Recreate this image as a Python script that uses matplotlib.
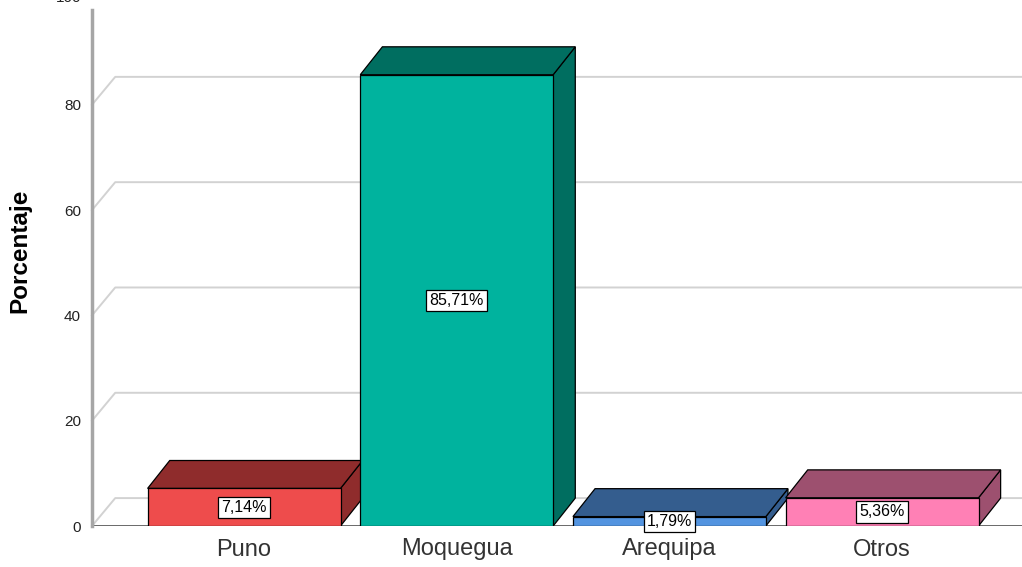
import numpy as np
import matplotlib.pyplot as plt
from matplotlib.patches import Polygon, Rectangle

# data
categories = ['Puno', 'Moquegua', 'Arequipa', 'Otros']
percents = [7.14, 85.71, 1.79, 5.36]
value_labels = ['7,14%', '85,71%', '1,79%', '5,36%']
yticks = [0, 20, 40, 60, 80]

front_colors = ['#ee4c4c', '#00b39e', '#5394e0', '#ff80b5']
dark_colors = ['#8f2c2c', '#006e60', '#345d8e', '#9d506f']

plt.rcParams['font.family'] = ['Liberation Sans', 'DejaVu Sans']

W = 0.907      # bar width in category units
DX = 0.104     # depth offset, x (category units)
DY = 5.3       # depth offset, y (value units)
XMIN, XMAX = -0.715, 3.658


def draw_bar(ax, xc, h, front, dark):
    x0 = xc - W / 2
    x1 = xc + W / 2
    side = Polygon([(x1, 0), (x1 + DX, DY), (x1 + DX, h + DY), (x1, h)],
                   closed=True, fc=dark, ec='black', lw=0.9, zorder=3)
    top = Polygon([(x0, h), (x0 + DX, h + DY), (x1 + DX, h + DY), (x1, h)],
                  closed=True, fc=dark, ec='black', lw=0.9, zorder=3)
    face = Rectangle((x0, 0), W, h, fc=front, ec='black', lw=0.9, zorder=3)
    ax.add_patch(side)
    ax.add_patch(top)
    ax.add_patch(face)


def main():
    fig = plt.figure(figsize=(10.22, 5.67), dpi=100)
    ax = fig.add_axes([92 / 1022, 41 / 567, 930 / 1022, 516 / 567])
    ax.set_xlim(XMIN, XMAX)
    ax.set_ylim(0, 98)

    # 3d style gridlines
    for v in yticks:
        ax.plot([XMIN, XMIN + DX * 1.05, XMAX], [v, v + DY, v + DY],
                color='#d2d2d2', lw=1.4, zorder=1, clip_on=False)
    ax.plot([XMIN, XMAX], [0, 0], color='#505050', lw=1.2, zorder=2)

    x = np.arange(len(categories))
    for i in range(len(categories)):
        draw_bar(ax, x[i], percents[i], front_colors[i], dark_colors[i])
        ax.text(x[i], percents[i] / 2, value_labels[i], ha='center', va='center',
                fontsize=11.5, color='black', zorder=5,
                bbox=dict(boxstyle='square,pad=0.2', fc='white', ec='black', lw=0.9))

    for s in ['top', 'right', 'bottom']:
        ax.spines[s].set_visible(False)
    ax.spines['left'].set_color('#a6a6a6')
    ax.spines['left'].set_linewidth(2.5)
    ax.spines['left'].set_zorder(4)

    ax.set_yticks(yticks)
    ax.set_yticklabels([str(v) for v in yticks])
    ax.tick_params(axis='y', length=0, pad=8, labelsize=11, labelcolor='#222222')
    # top tick label, cut by the image edge as in the reference
    ax.text(XMIN - 0.05, 100.3, '100', ha='right', va='center', fontsize=11,
            color='#222222', clip_on=False)

    ax.set_xticks(x)
    ax.set_xticklabels(categories)
    ax.tick_params(axis='x', length=0, pad=9, labelsize=17, labelcolor='#333333')

    fig.text(20 / 1022, 1 - 251 / 567, 'Porcentaje', rotation=90, ha='center',
             va='center', fontsize=17.5, fontweight='bold', color='black')

    fig.savefig('out.png', dpi=100)


if __name__ == "__main__":
    main()
